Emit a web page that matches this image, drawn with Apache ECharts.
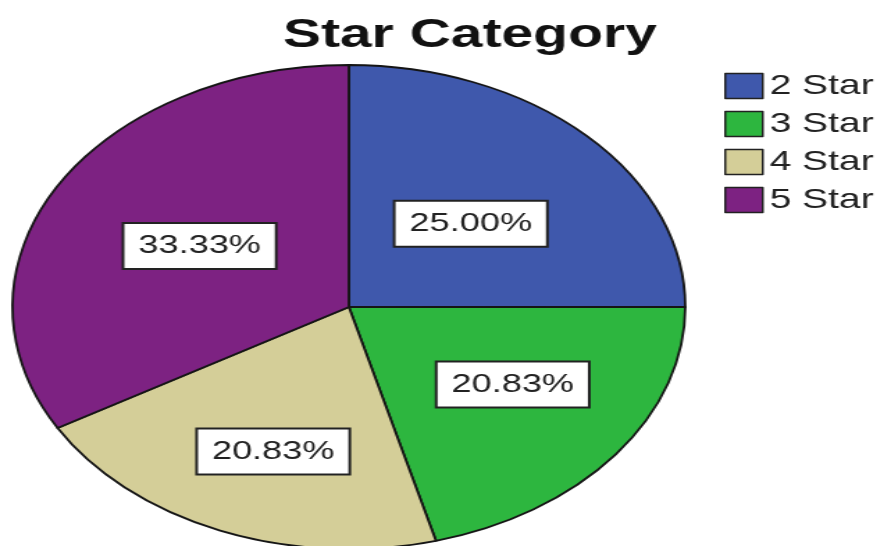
<!DOCTYPE html>
<html>
<head>
<meta charset="utf-8">
<title>Star Category</title>
<script src="https://cdn.jsdelivr.net/npm/echarts@6/dist/echarts.min.js"></script>
<style>
  html, body { margin: 0; padding: 0; background: #fff; overflow: hidden; }
  /* the chart is drawn narrow and widened, giving the oval pie */
  #chart { width: 633px; height: 546px; transform: scaleX(1.39); transform-origin: 0 0; }
</style>
</head>
<body>
<div id="chart"></div>
<script>
const titleText = 'Star Category';
const categories = ['2 Star', '3 Star', '4 Star', '5 Star'];
const percents = [25.00, 20.83, 20.83, 33.33];
const colors = ['#3f58ac', '#2db63f', '#d4ce98', '#7d2282'];

// nudges for the value boxes, in px, per slice
const labelShift = [[0, 4.5], [19.5, 2], [-7, 30], [0, 1]];

const chart = echarts.init(document.getElementById('chart'));
chart.setOption({
  animation: false,
  color: colors,
  title: {
    text: titleText,
    left: 338,
    textAlign: 'center',
    top: 15,
    padding: 0,
    textStyle: { fontFamily: 'Liberation Sans, Arial, sans-serif', fontSize: 41, fontWeight: 'bold', color: '#111' }
  },
  legend: {
    orient: 'vertical',
    left: 521,
    top: 72,
    padding: 0,
    itemWidth: 27,
    itemHeight: 25,
    itemGap: 10,
    icon: 'rect',
    itemStyle: { borderColor: '#222', borderWidth: 1.5 },
    textStyle: { fontFamily: 'Liberation Sans, Arial, sans-serif', fontSize: 28, color: '#222' },
    data: categories
  },
  series: [{
    type: 'pie',
    center: [251, 307],
    radius: 242,
    startAngle: 90,
    clockwise: true,
    itemStyle: { borderColor: '#151515', borderWidth: 1.8 },
    emphasis: { disabled: true },
    label: {
      show: true,
      position: 'inside',
      formatter: p => p.value.toFixed(2) + '%',
      fontFamily: 'Liberation Sans, Arial, sans-serif',
      fontSize: 26,
      lineHeight: 30,
      color: '#222',
      backgroundColor: '#fff',
      borderColor: '#222',
      borderWidth: 2,
      padding: [7, 10]
    },
    labelLayout: p => ({ dx: labelShift[p.dataIndex][0], dy: labelShift[p.dataIndex][1] }),
    data: categories.map((name, i) => ({ name: name, value: percents[i] }))
  }]
});
</script>
</body>
</html>
